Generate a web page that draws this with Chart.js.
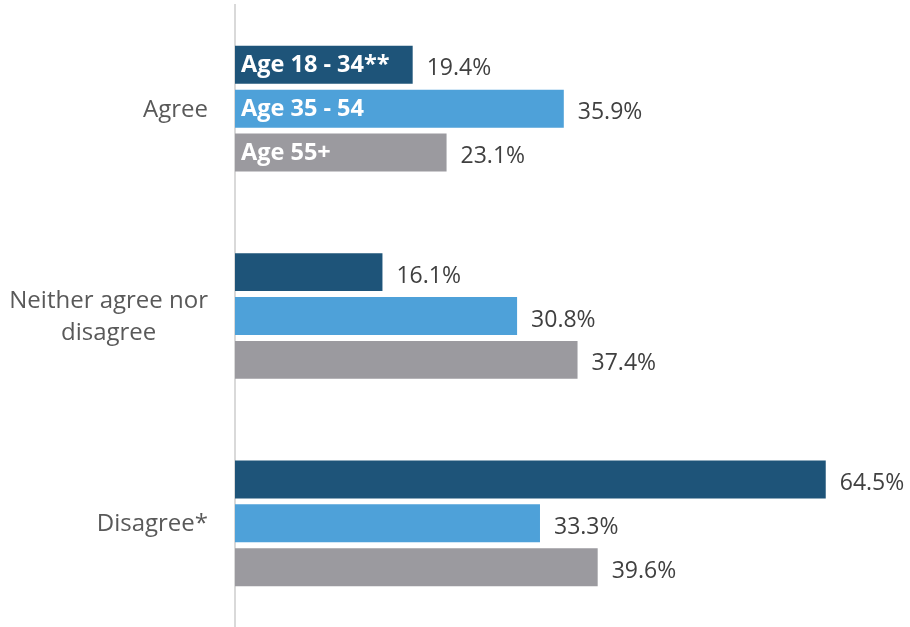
<!DOCTYPE html>
<html>
<head>
<meta charset="utf-8">
<script src="https://cdn.jsdelivr.net/npm/chart.js@4"></script>
<style>
  html, body { margin: 0; padding: 0; background: #ffffff; }
  #wrap { width: 910px; height: 627px; position: relative; }
</style>
</head>
<body>
<div id="wrap"><canvas id="chart"></canvas></div>
<script>
// Response categories (the middle one wraps over two lines)
const categories = ['Agree', ['Neither agree nor', 'disagree'], 'Disagree*'];

// Share of respondents per age group, in percent
const seriesNames = ['Age 18 - 34**', 'Age 35 - 54', 'Age 55+'];
const age18to34 = [19.4, 16.1, 64.5];
const age35to54 = [35.9, 30.8, 33.3];
const age55plus = [23.1, 37.4, 39.6];

const seriesColors = ['#1e5479', '#4ea1d9', '#9b9a9f'];
const FONT = '"Open Sans", "Noto Sans", sans-serif';

// Category names, value labels and in-bar series names
const labelPlugin = {
  id: 'barLabels',
  afterDatasetsDraw(chart) {
    const ctx = chart.ctx;
    const yScale = chart.scales.y;
    ctx.save();

    // category names on the left, block right-aligned, lines centred
    ctx.font = '24px ' + FONT;
    ctx.fillStyle = '#595959';
    ctx.textBaseline = 'middle';
    const rightEdge = 208;
    const lineH = 32;
    chart.data.labels.forEach((lab, i) => {
      const lines = Array.isArray(lab) ? lab : [lab];
      const widths = lines.map(l => ctx.measureText(l).width);
      const maxW = Math.max(...widths);
      const cx = rightEdge - maxW / 2;
      const cy = yScale.getPixelForTick(i) + 1;
      const y0 = cy - (lines.length - 1) * lineH / 2;
      ctx.textAlign = 'center';
      lines.forEach((l, k) => ctx.fillText(l, cx, y0 + k * lineH));
    });

    chart.data.datasets.forEach((ds, di) => {
      const meta = chart.getDatasetMeta(di);
      meta.data.forEach((bar, i) => {
        // value after the bar end
        ctx.font = '23px ' + FONT;
        ctx.fillStyle = '#404040';
        ctx.textAlign = 'left';
        ctx.textBaseline = 'middle';
        ctx.fillText(ds.data[i].toFixed(1) + '%', bar.x + 14, bar.y + 4);
        // series name inside the first group of bars
        if (i === 0) {
          ctx.font = 'bold 23.5px ' + FONT;
          ctx.fillStyle = '#ffffff';
          ctx.fillText(ds.label, bar.base + 6, bar.y + 1);
        }
      });
    });
    ctx.restore();
  }
};

new Chart(document.getElementById('chart'), {
  type: 'bar',
  data: {
    labels: categories,
    datasets: [
      { label: seriesNames[0], data: age18to34, backgroundColor: seriesColors[0] },
      { label: seriesNames[1], data: age35to54, backgroundColor: seriesColors[1] },
      { label: seriesNames[2], data: age55plus, backgroundColor: seriesColors[2] }
    ]
  },
  options: {
    indexAxis: 'y',
    responsive: true,
    maintainAspectRatio: false,
    animation: false,
    layout: { padding: { top: 5, bottom: 0, left: 0, right: 0 } },
    datasets: {
      bar: { categoryPercentage: 0.635, barPercentage: 0.865, borderWidth: 0 }
    },
    plugins: {
      legend: { display: false },
      tooltip: { enabled: false }
    },
    scales: {
      x: {
        display: false,
        min: 0,
        max: 73.7
      },
      y: {
        grid: { display: false },
        border: { display: true, color: '#d9d9d9', width: 2 },
        ticks: { display: false },
        afterFit(scale) { scale.width = 235; }
      }
    }
  },
  plugins: [labelPlugin]
});
</script>
</body>
</html>
